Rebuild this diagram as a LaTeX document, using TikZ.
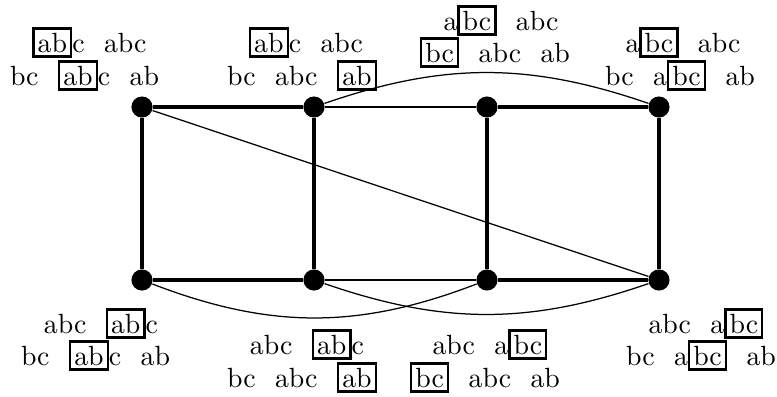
\documentclass[tikz,border=0pt]{standalone}
\newcommand\bx[1]{{\setlength\fboxsep{1.1pt}\setlength\fboxrule{0.8pt}\fbox{#1}}}
\newcommand\wg{\hspace{7pt}}
\begin{document}
\begin{tikzpicture}[x=0.36pt,y=-0.36pt,
  vtx/.style={circle,fill=black,inner sep=0pt,minimum size=7.6pt},
  heavy/.style={line width=1.6pt},
  light/.style={line width=0.45pt},
  lbl/.style={anchor=base,inner sep=0pt}]
\useasboundingbox (0,0) rectangle (777,396);
\node[vtx] (a) at (142,107) {};
\node[vtx] (b) at (314,107) {};
\node[vtx] (c) at (487,107) {};
\node[vtx] (d) at (659,107) {};
\node[vtx] (e) at (142,280) {};
\node[vtx] (f) at (314,280) {};
\node[vtx] (g) at (487,280) {};
\node[vtx] (h) at (659,280) {};
\draw[heavy] (a) -- (b) -- (f) -- (e) -- (a);
\draw[heavy] (c) -- (d) -- (h) -- (g) -- (c);
\draw[light] (b) -- (c);
\draw[light] (f) -- (g);
\draw[light] (a) -- (h);
\draw[light] (b) to[bend left=19] (d);
\draw[light] (e) to[bend right=21] (g);
\draw[light] (f) to[bend right=19] (h);
% labels
\node[lbl] (tl1) at (89.5,52) {\bx{ab}c\wg abc};
\node[lbl] (tl2) at (84.5,85) {bc\wg\bx{ab}c\wg ab};
\node[lbl] (tb1) at (306,52) {\bx{ab}c\wg abc};
\node[lbl] (tb2) at (302,85) {bc\wg abc\wg\bx{ab}};
\node[lbl] (tc1) at (501,30) {a\bx{bc}\wg abc};
\node[lbl] (tc2) at (495,62) {\bx{bc}\wg abc\wg ab};
\node[lbl] (td1) at (683,52) {a\bx{bc}\wg abc};
\node[lbl] (td2) at (680,85) {bc\wg a\bx{bc}\wg ab};
\node[lbl] (be1) at (101,333) {abc\wg\bx{ab}c};
\node[lbl] (be2) at (95.5,365) {bc\wg\bx{ab}c\wg ab};
\node[lbl] (bf1) at (307,354) {abc\wg\bx{ab}c};
\node[lbl] (bf2) at (302,387) {bc\wg abc\wg\bx{ab}};
\node[lbl] (bg1) at (490,354) {abc\wg a\bx{bc}};
\node[lbl] (bg2) at (485,387) {\bx{bc}\wg abc\wg ab};
\node[lbl] (bh1) at (706,333) {abc\wg a\bx{bc}};
\node[lbl] (bh2) at (701,365) {bc\wg a\bx{bc}\wg ab};
\end{tikzpicture}
\end{document}
